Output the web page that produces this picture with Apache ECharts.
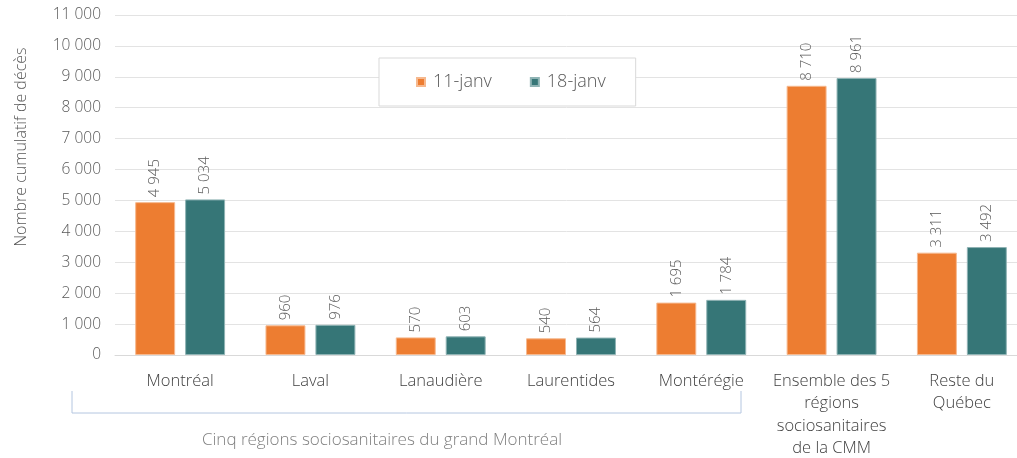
<!DOCTYPE html>
<html>
<head>
<meta charset="utf-8">
<script src="https://cdn.jsdelivr.net/npm/echarts@6/dist/echarts.min.js"></script>
<style>
  html, body { margin: 0; padding: 0; background: #fff; }
  #chart { width: 1017px; height: 458px; }
</style>
</head>
<body>
<div id="chart"></div>
<script>
// catégories et séries
const regions = ['Montréal', 'Laval', 'Lanaudière', 'Laurentides', 'Montérégie',
  'Ensemble des 5\nrégions\nsociosanitaires\nde la CMM', 'Reste du\nQuébec'];
const janv11 = [4945, 960, 570, 540, 1695, 8710, 3311];
const janv18 = [5034, 976, 603, 564, 1784, 8961, 3492];
const seriesNames = ['11-janv', '18-janv'];
const groupLabel = 'Cinq régions sociosanitaires du grand Montréal';

const FONT = '"Open Sans", Lato, sans-serif';
const W = 300;
const GREY = '#595959';

// séparateur de milliers à l'espace
const fmt = v => String(v).replace(/\B(?=(\d{3})+(?!\d))/g, ' ');

const chart = echarts.init(document.getElementById('chart'));

const barLabel = {
  show: true,
  position: 'top',
  rotate: 90,
  align: 'left',
  verticalAlign: 'middle',
  distance: 5,
  color: GREY,
  fontSize: 15,
  fontWeight: W,
  fontFamily: FONT,
  formatter: p => fmt(p.value)
};

const option = {
  animation: false,
  textStyle: { fontFamily: FONT },
  legend: {
    data: seriesNames,
    left: 379,
    top: 58,
    padding: [15, 30, 15, 37],
    itemGap: 38,
    itemWidth: 8,
    itemHeight: 8,
    icon: 'rect',
    borderColor: '#d9d9d9',
    borderWidth: 1,
    backgroundColor: '#fff',
    textStyle: { color: GREY, fontSize: 18, fontWeight: W, fontFamily: FONT, padding: [0, 0, 0, 3] }
  },
  grid: { left: 115, top: 15, width: 912, bottom: 103, containLabel: false, outerBoundsMode: 'none' },
  xAxis: {
    type: 'category',
    data: regions,
    axisLine: { lineStyle: { color: '#d9d9d9' } },
    axisTick: { show: false },
    axisLabel: {
      color: '#404040',
      fontSize: 16.5,
      fontWeight: W,
      fontFamily: FONT,
      lineHeight: 22.5,
      margin: 15,
      interval: 0
    }
  },
  yAxis: {
    type: 'value',
    min: 0,
    max: 11000,
    interval: 1000,
    name: 'Nombre cumulatif de décès',
    nameLocation: 'middle',
    nameGap: 86,
    nameTextStyle: { color: GREY, fontSize: 16, fontWeight: W, fontFamily: FONT, padding: [0, 0, 0, 76] },
    axisLine: { show: false },
    axisTick: { show: false },
    splitLine: { lineStyle: { color: '#e3e3e3' } },
    axisLabel: {
      color: GREY,
      fontSize: 15.5,
      fontWeight: W,
      fontFamily: FONT,
      margin: 14,
      formatter: v => fmt(v)
    }
  },
  series: [
    {
      name: seriesNames[0],
      type: 'bar',
      data: janv11,
      barGap: '25%',
      barCategoryGap: '31%',
      itemStyle: { color: '#ED7D31', borderColor: '#f6b98f', borderWidth: 1 },
      label: barLabel
    },
    {
      name: seriesNames[1],
      type: 'bar',
      data: janv18,
      itemStyle: { color: '#367677', borderColor: '#8fb3b4', borderWidth: 1 },
      label: barLabel
    }
  ],
  graphic: [
    {
      type: 'polyline',
      shape: { points: [[72, 391], [72, 413], [741, 413], [741, 391]] },
      style: { stroke: '#b4c6e0', lineWidth: 1, fill: null }
    },
    {
      type: 'text',
      x: 382,
      y: 440,
      style: {
        text: groupLabel,
        fill: '#7f7f7f',
        fontSize: 17,
        fontWeight: W,
        fontFamily: FONT,
        align: 'center',
        verticalAlign: 'middle'
      }
    }
  ]
};

chart.setOption(option);
</script>
</body>
</html>
